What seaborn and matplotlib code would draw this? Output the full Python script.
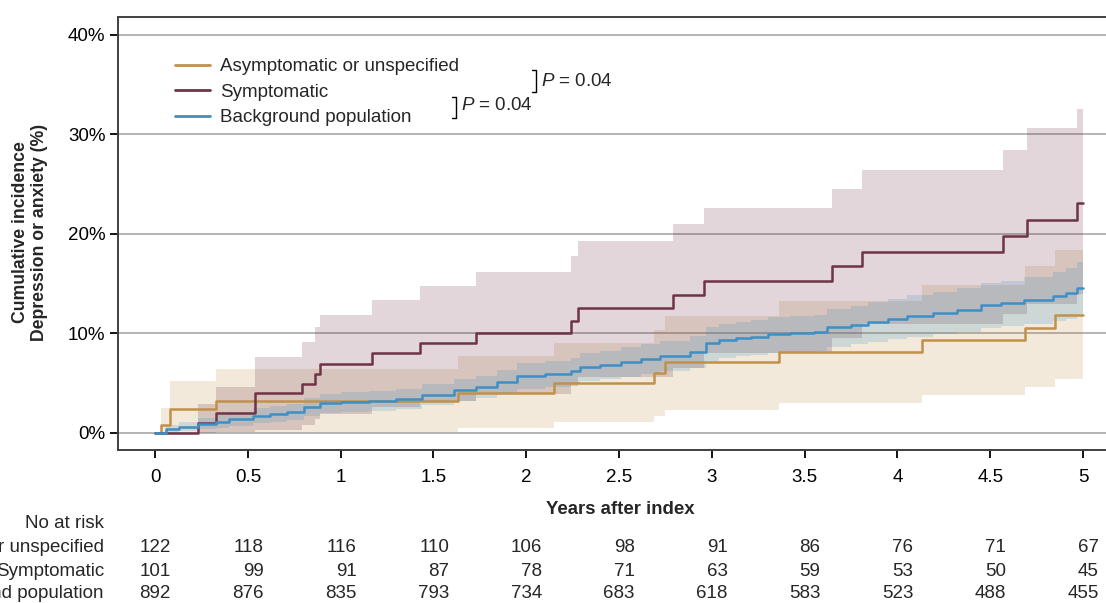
import numpy as np
import pandas as pd
import matplotlib
matplotlib.use("Agg")
import matplotlib.pyplot as plt
import seaborn as sns
from matplotlib.lines import Line2D
from matplotlib.transforms import blended_transform_factory

# Step curves: years after index, cumulative incidence (%)
asym_t = [0, 0.03, 0.08, 0.33, 1.63, 2.15, 2.69, 2.75, 3.36, 4.13, 4.69, 4.85]
asym_v = [0, 0.8, 2.4, 3.2, 4.0, 5.0, 6.0, 7.1, 8.1, 9.3, 10.5, 11.9]
asym_lo = [0, 0, 0.1, 0.1, 0.5, 1.1, 1.7, 2.3, 3.0, 3.8, 4.6, 5.4]
asym_hi = [0, 2.5, 5.2, 6.4, 7.7, 9.0, 10.3, 11.8, 13.3, 14.9, 16.8, 18.4]

sym_t = [0, 0.23, 0.33, 0.54, 0.79, 0.86, 0.89, 1.17, 1.43, 1.73, 2.24, 2.28,
         2.79, 2.96, 3.65, 3.81, 4.57, 4.70, 4.97]
sym_v = [0, 1.0, 2.0, 4.0, 4.9, 5.9, 6.9, 8.0, 9.0, 10.0, 11.3, 12.6,
         13.9, 15.3, 16.8, 18.2, 19.8, 21.4, 23.1]
sym_lo = [0, 0, 0.1, 0.3, 0.8, 1.4, 1.9, 2.6, 3.2, 3.9, 4.7, 5.6,
          6.5, 8.0, 9.5, 11.0, 12.0, 13.0, 14.0]
sym_hi = [0, 2.9, 4.6, 7.6, 9.1, 10.6, 11.9, 13.4, 14.8, 16.2, 17.8, 19.3,
          21.0, 22.6, 24.5, 26.4, 28.4, 30.6, 32.6]

bg_t = [0, 0.06, 0.13, 0.23, 0.33, 0.40, 0.53, 0.62, 0.71, 0.80,
        0.89, 1.00, 1.15, 1.30, 1.44, 1.61, 1.73, 1.84, 1.95, 2.10,
        2.24, 2.29, 2.40, 2.51, 2.62, 2.72, 2.88, 2.97, 3.04, 3.13,
        3.21, 3.30, 3.42, 3.55, 3.62, 3.75, 3.84, 3.95, 4.05, 4.19,
        4.32, 4.45, 4.56, 4.68, 4.84, 4.91, 4.97]
bg_v = [0, 0.4, 0.6, 0.9, 1.1, 1.4, 1.7, 1.9, 2.1, 2.6,
        3.0, 3.1, 3.2, 3.4, 3.8, 4.3, 4.6, 5.1, 5.7, 5.9,
        6.2, 6.6, 6.8, 7.1, 7.4, 7.7, 8.1, 9.0, 9.3, 9.5,
        9.6, 9.9, 10.0, 10.1, 10.6, 10.9, 11.2, 11.5, 11.8, 12.1,
        12.4, 12.9, 13.1, 13.4, 13.8, 14.1, 14.6]
bg_lo = [0, 0.1, 0.2, 0.4, 0.5, 0.7, 1.0, 1.1, 1.3, 1.7,
         2.0, 2.1, 2.2, 2.4, 2.8, 3.2, 3.5, 3.9, 4.4, 4.6,
         4.9, 5.2, 5.4, 5.6, 5.9, 6.2, 6.5, 7.2, 7.5, 7.7,
         7.8, 8.0, 8.1, 8.2, 8.6, 8.9, 9.1, 9.4, 9.6, 9.9,
         10.1, 10.5, 10.7, 11.0, 11.3, 11.5, 11.9]
bg_hi = [0, 0.8, 1.1, 1.5, 1.8, 2.1, 2.5, 2.7, 2.9, 3.5,
         3.9, 4.1, 4.2, 4.4, 4.9, 5.4, 5.7, 6.3, 7.0, 7.2,
         7.5, 8.0, 8.2, 8.6, 8.9, 9.2, 9.7, 10.6, 11.0, 11.2,
         11.4, 11.7, 11.8, 11.9, 12.5, 12.8, 13.2, 13.5, 13.9, 14.2,
         14.6, 15.1, 15.3, 15.7, 16.2, 16.6, 17.2]

# Numbers at risk
risk_times = [0, 0.5, 1, 1.5, 2, 2.5, 3, 3.5, 4, 4.5, 5]
risk_asym = [122, 118, 116, 110, 106, 98, 91, 86, 76, 71, 67]
risk_sym = [101, 99, 91, 87, 78, 71, 63, 59, 53, 50, 45]
risk_bg = [892, 876, 835, 793, 734, 683, 618, 583, 523, 488, 455]

groups = ["Asymptomatic or unspecified", "Symptomatic", "Background population"]
colors = ["#C0914A", "#6E3446", "#3D8FC4"]
x_ticks = [0, 0.5, 1, 1.5, 2, 2.5, 3, 3.5, 4, 4.5, 5]
x_ticklabels = ["0", "0.5", "1", "1.5", "2", "2.5", "3", "3.5", "4", "4.5", "5"]
y_ticks = [0, 10, 20, 30, 40]
y_ticklabels = ["0%", "10%", "20%", "30%", "40%"]
end_of_followup = 5.0

sns.set_style("white")
plt.rcParams["font.family"] = ["Liberation Sans", "DejaVu Sans"]
plt.rcParams["mathtext.fontset"] = "custom"
plt.rcParams["mathtext.it"] = "Liberation Sans:italic"
plt.rcParams["mathtext.rm"] = "Liberation Sans"

FS = 13.5
W, H = 1106, 603
fig = plt.figure(figsize=(W / 100, H / 100), dpi=100)


def fx(px):
    return px / W


def fy(py):
    return 1 - py / H


ax = fig.add_axes([fx(118), fy(450), fx(1106) - fx(118), fy(17) - fy(450)])

series = [
    (asym_t, asym_v, asym_lo, asym_hi),
    (sym_t, sym_v, sym_lo, sym_hi),
    (bg_t, bg_v, bg_lo, bg_hi),
]

rows = []
for name, (t, v, lo, hi), col in zip(groups, series, colors):
    tt = list(t) + [end_of_followup]
    ax.fill_between(tt, list(lo) + [lo[-1]], list(hi) + [hi[-1]], step="post",
                    color=col, alpha=0.2, lw=0, zorder=1)
    for a, b in zip(tt, list(v) + [v[-1]]):
        rows.append({"years": a, "inc": b, "group": name})
df = pd.DataFrame(rows)

sns.lineplot(data=df, x="years", y="inc", hue="group", hue_order=groups,
             palette=colors, estimator=None, drawstyle="steps-post",
             lw=1.8, legend=False, ax=ax, zorder=3)

ax.set_xlim(-0.2, 5.124)
ax.set_ylim(-1.71, 41.8)
ax.set_xticks(x_ticks, x_ticklabels)
ax.set_yticks(y_ticks, y_ticklabels)
ax.grid(axis="y", color="#B3B3B3", lw=1.4, zorder=0)
ax.grid(axis="x", visible=False)
ax.set_xlabel("")
ax.set_ylabel("")
ax.tick_params(axis="x", direction="out", length=6, width=1.3, pad=7.5,
               labelsize=FS, colors="black", bottom=True)
ax.tick_params(axis="y", direction="out", length=6, width=1.3, pad=3,
               labelsize=FS, colors="black", left=True)
for side in ["left", "top", "bottom"]:
    ax.spines[side].set_color("#404040")
    ax.spines[side].set_linewidth(1.4)
ax.spines["right"].set_visible(False)

handles = [Line2D([0], [0], color=c, lw=2) for c in colors]
ax.legend(handles, groups, loc="upper left", bbox_to_anchor=(0.0577, 0.905),
          frameon=False, fontsize=FS, handlelength=1.87, handletextpad=0.53,
          labelspacing=0.45, borderpad=0, borderaxespad=0)

# P-value brackets
for (x0, y0, y1, tx, ty) in [(536, 70, 92, 541, 81), (456, 97, 118, 461, 106)]:
    fig.add_artist(Line2D([fx(x0 - 4), fx(x0), fx(x0), fx(x0 - 4)],
                          [fy(y0), fy(y0), fy(y1), fy(y1)],
                          color="black", lw=1.0))
    fig.text(fx(tx), fy(ty), "$P$ = 0.04", fontsize=FS, ha="left", va="center")

# axis titles
fig.text(fx(30), fy(232), "Cumulative incidence\nDepression or anxiety (%)",
         rotation=90, ha="center", va="center", fontsize=12.7, fontweight="bold",
         linespacing=1.15)
fig.text(fx(620), fy(509), "Years after index", ha="center", va="center",
         fontsize=13.4, fontweight="bold")

# number at risk table
trans = blended_transform_factory(ax.transData, fig.transFigure)
fig.text(fx(104), fy(523), "No at risk", ha="right", va="center", fontsize=FS)
for name, counts, py in zip(groups, [risk_asym, risk_sym, risk_bg], [547, 571, 594]):
    fig.text(fx(104), fy(py), name, ha="right", va="center", fontsize=FS)
    for t, n in zip(risk_times, counts):
        ax.text(t + 0.085, fy(py), str(n), transform=trans, ha="right",
                va="center", fontsize=FS, clip_on=False)

fig.savefig("out.png", dpi=100)
